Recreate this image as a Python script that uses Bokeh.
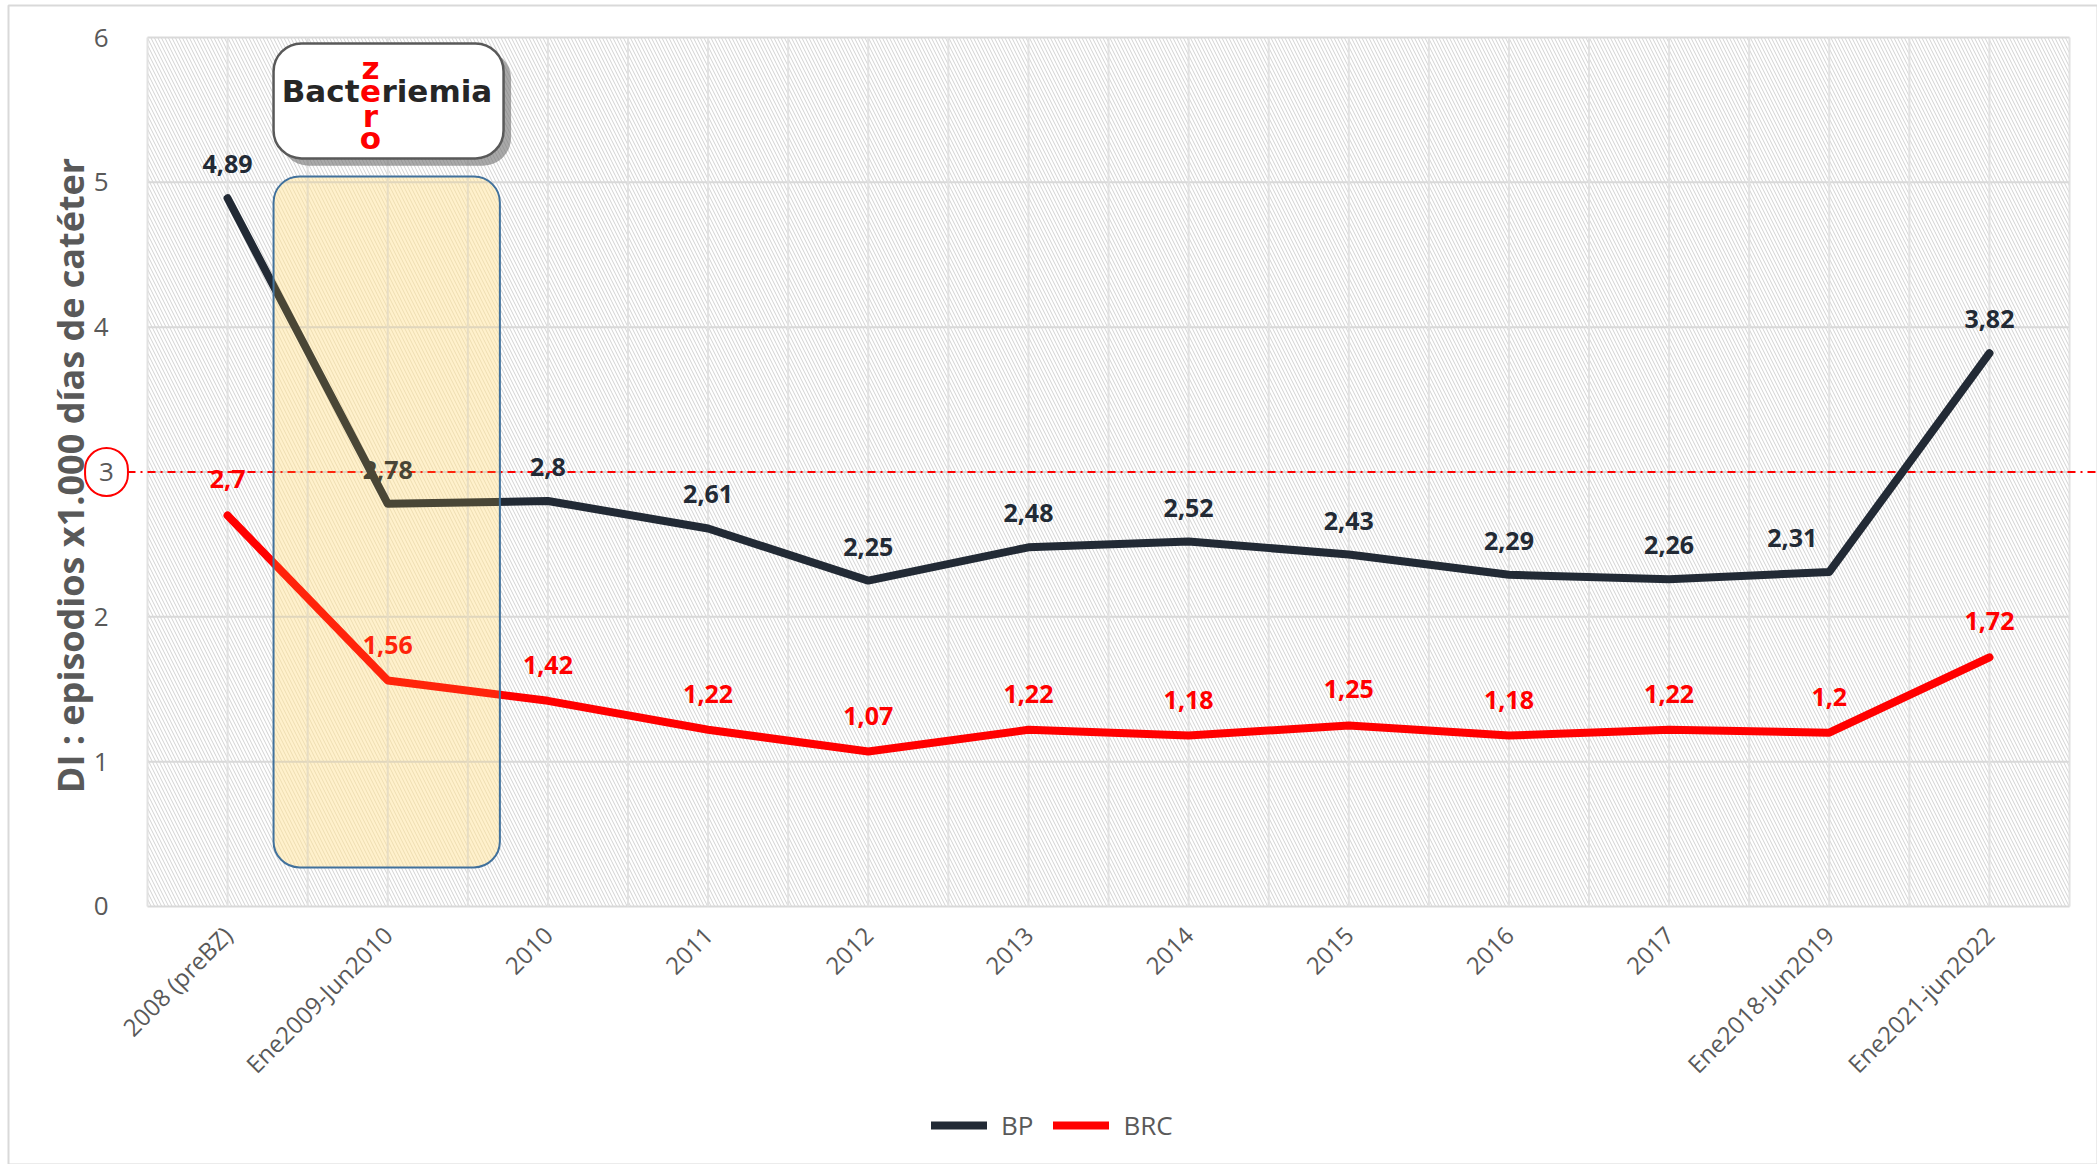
from bokeh.plotting import figure
from bokeh.models import (Range1d, FixedTicker, BoxAnnotation, Label, LinearAxis,
                          Legend, LegendItem, ColumnDataSource)
from bokeh.core.properties import value
from bokeh.embed import file_html
from bokeh.resources import INLINE

# ---------------- data ----------------
categories = ["2008 (preBZ)", "Ene2009-Jun2010", "2010", "2011", "2012", "2013",
              "2014", "2015", "2016", "2017", "Ene2018-Jun2019", "Ene2021-jun2022"]
bp = [4.89, 2.78, 2.8, 2.61, 2.25, 2.48, 2.52, 2.43, 2.29, 2.26, 2.31, 3.82]
brc = [2.7, 1.56, 1.42, 1.22, 1.07, 1.22, 1.18, 1.25, 1.18, 1.22, 1.2, 1.72]
y_ticks = [0, 1, 2, 3, 4, 5, 6]
threshold = 3
series_names = ["BP", "BRC"]
y_title = "DI : episodios x1.000 días de catéter"


def fmt(v):
    return ("%g" % v).replace(".", ",")


bp_labels = [fmt(v) for v in bp]
brc_labels = [fmt(v) for v in brc]
bp_dx = [0] * len(bp)
bp_dx[10] = -37

# ---------------- layout constants ----------------
W, H = 2097, 1164
FRAME_L, FRAME_T = 147, 37          # pixel position of category-axis start / value 6
X_UNIT, Y_UNIT = 160.17, 144.83     # pixels per category / per unit of value
n = len(categories)
xs = [i + 0.5 for i in range(n)]    # category centres
y_top = y_ticks[-1]

BP_COLOR = "#222A35"
BRC_COLOR = "#FF0000"
GREY = "#595959"
FONT = "Open Sans"

p = figure(x_range=Range1d(-FRAME_L / X_UNIT, (W - FRAME_L) / X_UNIT),
           y_range=Range1d(y_top - (H - FRAME_T) / Y_UNIT, y_top + FRAME_T / Y_UNIT),
           width=W, height=H, output_backend="svg", toolbar_location=None,
           x_axis_location=None, y_axis_location=None, min_border=0)
p.outline_line_color = None
p.background_fill_color = "white"
p.border_fill_color = "white"
p.grid.visible = False


def px_x(px):
    return (px - FRAME_L) / X_UNIT


def px_y(py):
    return y_top - (py - FRAME_T) / Y_UNIT


# outer chart border
p.add_layout(BoxAnnotation(left=px_x(8), top=px_y(5), level="image", fill_alpha=0,
                           line_color="#D9D9D9", line_alpha=1, line_width=2))

# hatch background of the plot area
p.add_layout(BoxAnnotation(left=0, right=n, bottom=0, top=y_top, level="image",
                           fill_color="white", fill_alpha=1, line_color=None,
                           hatch_pattern="\\", hatch_color="#D2D2D2",
                           hatch_scale=7, hatch_weight=1))

# yellow highlighted period (under lines)
BOX = dict(left=0.787, right=2.2, bottom=0.27, top=5.04, border_radius=26)
p.add_layout(BoxAnnotation(level="image", fill_color="#FFFBEC", fill_alpha=1,
                           line_color=None, hatch_pattern="\\", hatch_color="#EBE2CC",
                           hatch_scale=7, hatch_weight=1, **BOX))

# grid lines
gx = [k * 0.5 for k in range(2 * n + 1)]
p.segment(x0=0, x1=n, y0=y_ticks, y1=y_ticks, line_color="#D9D9D9", line_width=2,
          level="underlay")
p.segment(x0=gx, x1=gx, y0=0, y1=y_top, line_color="#E2E2E2", line_width=2,
          level="underlay")

# axes
yaxis = LinearAxis(fixed_location=0, ticker=FixedTicker(ticks=y_ticks),
                   major_label_overrides={threshold: ""})
xaxis = LinearAxis(fixed_location=0, ticker=FixedTicker(ticks=xs),
                   major_label_overrides={x: c for x, c in zip(xs, categories)})
for ax in (xaxis, yaxis):
    ax.axis_line_color = None
    ax.major_tick_line_color = None
    ax.minor_tick_line_color = None
    ax.major_label_text_font = FONT
    ax.major_label_text_color = GREY
xaxis.major_label_text_font_size = "24px"
yaxis.major_label_text_font_size = "26px"
yaxis.major_label_standoff = 33
xaxis.major_label_orientation = 0.785398
xaxis.major_label_standoff = 18
p.add_layout(yaxis, "left")
p.add_layout(xaxis, "below")

# value-axis title, centred on the plot area
p.add_layout(Label(x=px_x(70), y=px_y(475), text=y_title, angle=90, angle_units="deg",
                   text_font=FONT, text_font_style="bold", text_font_size="36px",
                   text_color=GREY, text_align="center", text_baseline="middle"))

# threshold line
p.segment(x0=px_x(127), x1=px_x(W), y0=threshold, y1=threshold, line_color="#FF0000",
          line_width=2, line_dash="8 5 2 5")

# series
l1 = p.line(xs, bp, line_width=8, line_color=BP_COLOR, line_cap="round",
            line_join="round")
l2 = p.line(xs, brc, line_width=8, line_color=BRC_COLOR, line_cap="round",
            line_join="round")

src1 = ColumnDataSource(dict(x=xs, y=bp, t=bp_labels, dx=bp_dx))
src2 = ColumnDataSource(dict(x=xs, y=brc, t=brc_labels))
p.text(x="x", y="y", text="t", x_offset="dx", y_offset=-34, source=src1,
       text_align="center", text_baseline="middle", text_color=BP_COLOR,
       text_font=value(FONT), text_font_style="bold", text_font_size="25px")
p.text(x="x", y="y", text="t", y_offset=-36, source=src2,
       text_align="center", text_baseline="middle", text_color=BRC_COLOR,
       text_font=value(FONT), text_font_style="bold", text_font_size="25px")

# overlay tint + border of the highlighted period
p.add_layout(BoxAnnotation(level="overlay", fill_color="#FFC83C", fill_alpha=0.18,
                           line_color="#41719C", line_alpha=1, line_width=2, **BOX))

# logo
p.add_layout(BoxAnnotation(left=0.83, right=2.27, bottom=5.115, top=5.91, level="overlay",
                           fill_color="#6F6F6F", fill_alpha=0.6, line_color=None,
                           border_radius=28))
p.add_layout(BoxAnnotation(left=0.787, right=2.223, bottom=5.165, top=5.959, level="overlay",
                           fill_color="white", fill_alpha=1, line_color="#595959",
                           line_alpha=1, line_width=2.5, border_radius=28))
logo_font = dict(text_font="DejaVu Sans", text_font_style="bold", text_font_size="31px",
                 text_baseline="middle", level="overlay")
p.add_layout(Label(x=1.392, y=5.634, x_offset=-11, text="Bact", text_align="right",
                   text_color="#262626", **logo_font))
p.add_layout(Label(x=1.392, y=5.634, x_offset=11, text="riemia", text_align="left",
                   text_color="#262626", **logo_font))
for ch, yy in zip(["z", "e", "r", "o"], [5.786, 5.634, 5.461, 5.303]):
    p.add_layout(Label(x=1.392, y=yy, text=ch, text_align="center",
                       text_color="#FF0000", **logo_font))

# the "3" tick, circled in red
p.add_layout(Label(x=px_x(106), y=threshold, text=str(threshold), text_color=GREY,
                   text_font=FONT, text_font_size="26px",
                   text_align="center", text_baseline="middle",
                   border_line_color="#FF0000", border_line_width=2,
                   border_radius=22, padding=(14, 15)))

legend = Legend(items=[LegendItem(label=series_names[0], renderers=[l1]),
                       LegendItem(label=series_names[1], renderers=[l2])],
                orientation="horizontal", location=(931, 21),
                label_text_font=FONT, label_text_font_size="26px",
                label_text_color=GREY, glyph_width=56, glyph_height=20,
                spacing=20, label_standoff=14, border_line_color=None,
                background_fill_alpha=0, padding=5)
p.add_layout(legend)

open("out.html", "w").write(file_html(p, INLINE))
